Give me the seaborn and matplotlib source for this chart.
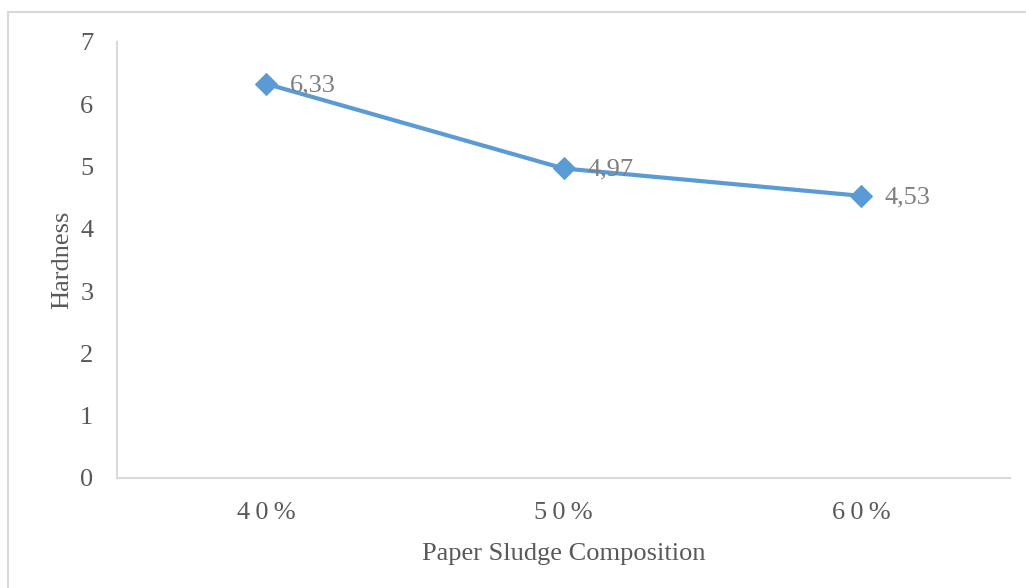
import matplotlib
matplotlib.use("Agg")
import matplotlib.pyplot as plt
import seaborn as sns
import pandas as pd
from matplotlib.patches import Rectangle

compositions = ["40%", "50%", "60%"]
hardness = [6.33, 4.97, 4.53]
hardness_labels = ["6,33", "4,97", "4,53"]
y_ticks = [0, 1, 2, 3, 4, 5, 6, 7]

sns.set_theme(style="white")
plt.rcParams["font.family"] = ["Liberation Serif", "DejaVu Serif"]

df = pd.DataFrame({"Composition": compositions, "Hardness": hardness})

fig = plt.figure(figsize=(10.26, 5.88), dpi=100)
ax = fig.add_axes([117 / 1026, 1 - 478 / 588, (1010 - 117) / 1026, (478 - 42) / 588])

line_color = "#5B9BD5"
sns.lineplot(data=df, x="Composition", y="Hardness", ax=ax, color=line_color,
             linewidth=3, marker="D", markersize=11, markeredgecolor=line_color,
             sort=False)

for i, (v, lab) in enumerate(zip(hardness, hardness_labels)):
    ax.annotate(lab, (i, v), xytext=(17, -1), textcoords="offset points",
                ha="left", va="center", fontsize=19, color="#7f7f7f")

ax.set_xlim(-0.5, 2.5)
ax.set_ylim(0, 7)
ax.set_yticks(y_ticks)
ax.set_yticklabels([str(t) for t in y_ticks])
ax.tick_params(axis="y", length=0, pad=17, labelsize=19, labelcolor="#595959")
ax.tick_params(axis="x", length=0, pad=17, labelsize=19, labelcolor="#595959")
ax.set_xticks(range(len(compositions)))
ax.set_xticklabels(["\u2009".join(c) for c in compositions])

ax.set_xlabel("Paper Sludge Composition", fontsize=19, color="#595959", labelpad=14)
ax.set_ylabel("Hardness", fontsize=19, color="#595959", labelpad=5)
ax.grid(False)

for side in ["top", "right"]:
    ax.spines[side].set_visible(False)
for side in ["left", "bottom"]:
    ax.spines[side].set_color("#d9d9d9")
    ax.spines[side].set_linewidth(1.5)

# chart area frame
fig.patches.append(Rectangle((8 / 1026, -0.05), 1.1, 1 - 12 / 588 + 0.05,
                             transform=fig.transFigure, fill=False,
                             edgecolor="#d9d9d9", linewidth=1.5))

fig.savefig("out.png", dpi=100)
